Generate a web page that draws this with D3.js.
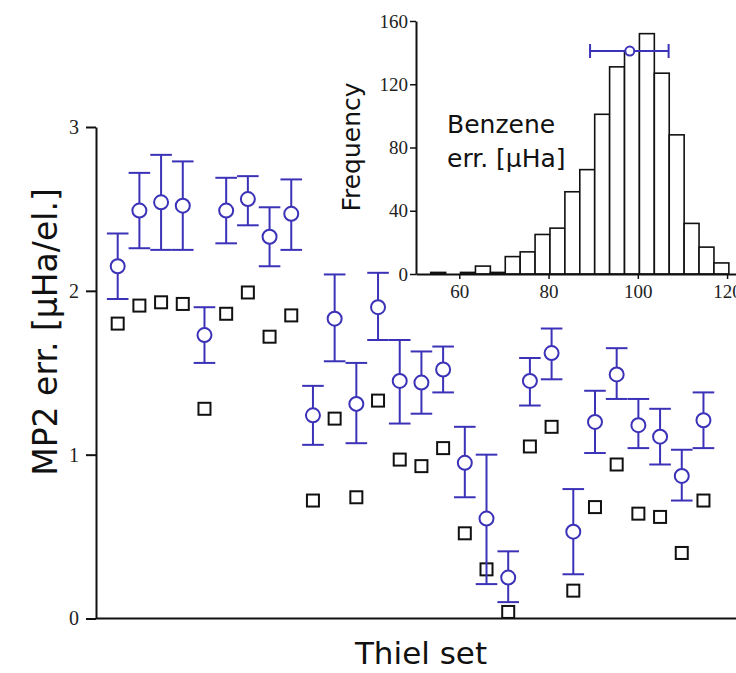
<!DOCTYPE html>
<html>
<head>
<meta charset="utf-8">
<script src="https://cdn.jsdelivr.net/npm/d3@7"></script>
<style>
  html, body { margin: 0; padding: 0; background: #fff; }
  svg { display: block; }
</style>
</head>
<body>
<svg id="chart" width="736" height="673"></svg>
<script>
// Thiel set: MP2 error per electron, one entry per molecule
const molecules = d3.range(1, 29);
const qmcErr   = [2.15, 2.49, 2.54, 2.52, 1.73, 2.49, 2.56, 2.33, 2.47, 1.24,
                  1.83, 1.31, 1.90, 1.45, 1.44, 1.52, 0.95, 0.61, 0.25, 1.45,
                  1.62, 0.53, 1.20, 1.49, 1.18, 1.11, 0.87, 1.21];
const qmcLow   = [1.95, 2.26, 2.25, 2.25, 1.56, 2.29, 2.40, 2.15, 2.25, 1.06,
                  1.57, 1.07, 1.70, 1.19, 1.25, 1.38, 0.74, 0.21, 0.10, 1.30,
                  1.46, 0.27, 1.01, 1.34, 1.04, 0.94, 0.72, 1.04];
const qmcHigh  = [2.35, 2.72, 2.83, 2.79, 1.90, 2.69, 2.70, 2.51, 2.68, 1.42,
                  2.10, 1.56, 2.11, 1.70, 1.63, 1.66, 1.17, 1.00, 0.41, 1.59,
                  1.77, 0.79, 1.39, 1.65, 1.34, 1.28, 1.03, 1.38];
const refErr   = [1.80, 1.91, 1.93, 1.92, 1.28, 1.86, 1.99, 1.72, 1.85, 0.72,
                  1.22, 0.74, 1.33, 0.97, 0.93, 1.04, 0.52, 0.30, 0.04, 1.05,
                  1.17, 0.17, 0.68, 0.94, 0.64, 0.62, 0.40, 0.72];
const mainTicks = [0, 1, 2, 3];

// Benzene histogram (error in μHa)
const binStart = 53.6;
const binWidth = 3.34;
const binCounts = [1, 0, 1, 5, 1, 11, 14, 25, 29, 52, 66, 101, 131, 141, 152,
                   127, 88, 32, 17, 7];
const benzeneMean = 98.2;
const benzeneLow  = 89.3;
const benzeneHigh = 106.9;
const benzeneFreq = 141;
const insetYTicks = [0, 40, 80, 120, 160];
const insetXTicks = [60, 80, 100, 120];

const blue = "#3b32b8";
const svg = d3.select("#chart");
const tickFont = "'Liberation Serif', serif";
const labelFont = "'DejaVu Sans', sans-serif";

// ---------- main panel ----------
const x = d3.scaleLinear().domain([0, 29.5]).range([96, 736]);
const y = d3.scaleLinear().domain([0, 3]).range([618.5, 127]);

const main = svg.append("g");

// reference squares
const sq = 12;
main.append("g").selectAll("rect")
  .data(molecules)
  .join("rect")
  .attr("x", (d) => x(d) - sq / 2)
  .attr("y", (d, i) => y(refErr[i]) - sq / 2)
  .attr("width", sq).attr("height", sq)
  .attr("fill", "#fff").attr("stroke", "#111").attr("stroke-width", 2);

// error bars
const cap = 10.8;
const eb = main.append("g").attr("stroke", blue).attr("stroke-width", 2).attr("fill", "none");
eb.selectAll("line.v").data(molecules).join("line").attr("class", "v")
  .attr("x1", (d) => x(d)).attr("x2", (d) => x(d))
  .attr("y1", (d, i) => y(qmcLow[i])).attr("y2", (d, i) => y(qmcHigh[i]));
eb.selectAll("line.lo").data(molecules).join("line").attr("class", "lo")
  .attr("x1", (d) => x(d) - cap).attr("x2", (d) => x(d) + cap)
  .attr("y1", (d, i) => y(qmcLow[i])).attr("y2", (d, i) => y(qmcLow[i]));
eb.selectAll("line.hi").data(molecules).join("line").attr("class", "hi")
  .attr("x1", (d) => x(d) - cap).attr("x2", (d) => x(d) + cap)
  .attr("y1", (d, i) => y(qmcHigh[i])).attr("y2", (d, i) => y(qmcHigh[i]));

main.append("g").selectAll("circle")
  .data(molecules)
  .join("circle")
  .attr("cx", (d) => x(d))
  .attr("cy", (d, i) => y(qmcErr[i]))
  .attr("r", 7)
  .attr("fill", "#fff").attr("stroke", blue).attr("stroke-width", 2);

// axes
const yAxis = main.append("g")
  .attr("transform", `translate(${x(0)},0)`)
  .call(d3.axisLeft(y).tickValues(mainTicks).tickFormat(d3.format("d"))
    .tickSize(10).tickSizeOuter(0).tickPadding(7));
yAxis.select(".domain").attr("stroke", "#111").attr("stroke-width", 2);
yAxis.selectAll(".tick line").attr("stroke", "#111").attr("stroke-width", 2);
yAxis.selectAll("text").attr("font-family", tickFont).attr("font-size", 20).attr("fill", "#222");

main.append("line")
  .attr("x1", x(0)).attr("x2", x(29.5))
  .attr("y1", y(0)).attr("y2", y(0))
  .attr("stroke", "#111").attr("stroke-width", 2);

main.append("text")
  .attr("transform", "translate(57,332) rotate(-90)")
  .attr("text-anchor", "middle")
  .attr("font-family", labelFont).attr("font-size", 33).attr("fill", "#111")
  .text("MP2 err. [μHa/el.]");

main.append("text")
  .attr("x", 421).attr("y", 664)
  .attr("text-anchor", "middle")
  .attr("font-family", labelFont).attr("font-size", 31).attr("fill", "#111")
  .text("Thiel set");

// ---------- inset histogram ----------
const ix = d3.scaleLinear().domain([50.3, 122]).range([416, 736]);
const iy = d3.scaleLinear().domain([0, 160]).range([274, 21]);
const inset = svg.append("g");

inset.append("g").selectAll("rect")
  .data(binCounts)
  .join("rect")
  .attr("x", (d, i) => ix(binStart + i * binWidth))
  .attr("width", (d, i) => ix(binStart + (i + 1) * binWidth) - ix(binStart + i * binWidth))
  .attr("y", (d) => iy(d))
  .attr("height", (d) => iy(0) - iy(d))
  .attr("fill", "#fff").attr("stroke", "#111").attr("stroke-width", 1.6);

const iyAxis = inset.append("g")
  .attr("transform", `translate(${ix(50.3)},0)`)
  .call(d3.axisLeft(iy).tickValues(insetYTicks).tickSize(6).tickSizeOuter(0).tickPadding(2));
iyAxis.select(".domain").attr("stroke", "#111").attr("stroke-width", 2);
iyAxis.selectAll(".tick line").attr("stroke", "#111").attr("stroke-width", 1.5);
iyAxis.selectAll("text").attr("font-family", tickFont).attr("font-size", 19).attr("fill", "#222");

const ixAxis = inset.append("g")
  .attr("transform", `translate(0,${iy(0)})`)
  .call(d3.axisBottom(ix).tickValues(insetXTicks).tickSize(5).tickSizeOuter(0).tickPadding(6));
ixAxis.select(".domain").attr("stroke", "#111").attr("stroke-width", 2);
ixAxis.selectAll(".tick line").attr("stroke", "#111").attr("stroke-width", 1.5);
ixAxis.selectAll("text").attr("font-family", tickFont).attr("font-size", 19).attr("fill", "#222");

// benzene mean with its error bar
const ib = inset.append("g").attr("stroke", blue).attr("stroke-width", 2);
ib.append("line")
  .attr("x1", ix(benzeneLow)).attr("x2", ix(benzeneHigh))
  .attr("y1", iy(benzeneFreq)).attr("y2", iy(benzeneFreq));
[benzeneLow, benzeneHigh].forEach((v) => {
  ib.append("line")
    .attr("x1", ix(v)).attr("x2", ix(v))
    .attr("y1", iy(benzeneFreq) - 7).attr("y2", iy(benzeneFreq) + 7);
});
ib.append("circle")
  .attr("cx", ix(benzeneMean)).attr("cy", iy(benzeneFreq))
  .attr("r", 4.5).attr("fill", "#fff");

inset.append("text")
  .attr("transform", `translate(360,147) rotate(-90)`)
  .attr("text-anchor", "middle")
  .attr("font-family", labelFont).attr("font-size", 25).attr("fill", "#111")
  .text("Frequency");

const note = inset.append("text")
  .attr("font-family", labelFont).attr("font-size", 25).attr("fill", "#111");
note.append("tspan").attr("x", 447).attr("y", 133).text("Benzene");
note.append("tspan").attr("x", 447).attr("y", 167).text("err. [μHa]");
</script>
</body>
</html>
